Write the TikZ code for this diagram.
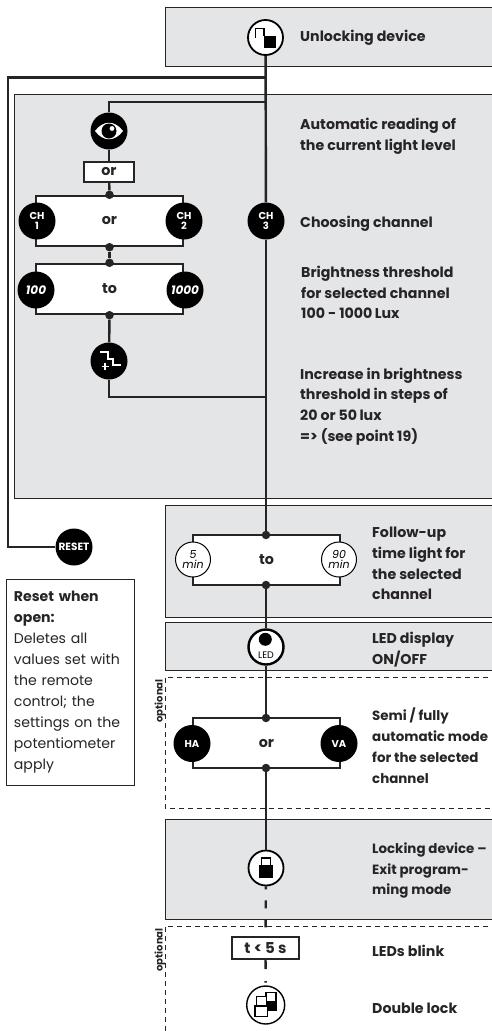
\documentclass[tikz,border=0pt]{standalone}
\usepackage{fontspec}
\setmainfont{Poppins}
\usetikzlibrary{positioning}
\definecolor{panelgray}{HTML}{E4E5E7}
\definecolor{inkdark}{HTML}{262425}
\tikzset{
  panel/.style={draw=inkdark, line width=0.9pt, fill=panelgray},
  flow/.style={draw=inkdark, line width=2.4pt},
  optline/.style={draw=inkdark, line width=0.9pt, dash pattern=on 5pt off 4pt},
  block/.style={draw=inkdark, line width=2.4pt, fill=white, minimum width=147pt, minimum height=50pt, inner sep=0pt, text=inkdark, font=\fontsize{14.3}{15}\selectfont\bfseries},
  smallbox/.style={draw=inkdark, line width=2.4pt, fill=white, inner sep=0pt, text=inkdark, font=\fontsize{14.3}{15}\selectfont\bfseries},
  junction/.style={circle, fill=inkdark, minimum size=8.5pt, inner sep=0pt},
  darkic/.style={circle, fill=black, minimum size=37pt, inner sep=0pt, text=white, align=center, font=\fontsize{10}{11.5}\selectfont\bfseries},
  valic/.style={darkic, font=\fontsize{12}{13}\selectfont\bfseries\itshape},
  lightic/.style={circle, draw=black, line width=1.8pt, fill=white, minimum size=35pt, inner sep=0pt},
  timeic/.style={circle, draw=black, line width=1pt, fill=white, minimum size=35pt, inner sep=0pt, align=center, text=black, font=\fontsize{11}{12}\selectfont\itshape},
  lbl/.style={anchor=west, align=left, inner sep=0pt, text=inkdark, font=\fontsize{14.2}{20.8}\selectfont\bfseries},
  lblnarrow/.style={lbl, font=\fontsize{13.4}{20.8}\selectfont\bfseries},
  optlbl/.style={rotate=90, inner sep=0pt, text=inkdark, font=\fontsize{10}{11}\selectfont\bfseries}
}
\begin{document}
\begin{tikzpicture}[x=1pt, y=-1pt]
  \clip (0,0) rectangle (492,1031);
  % panels
  \draw[panel] (165,7) rectangle (497,66);
  \draw[panel] (14.5,94) rectangle (497,498);
  \draw[panel] (165,505.5) rectangle (497,617);
  \draw[panel] (165,622.5) rectangle (497,670);
  \draw[panel] (165,819) rectangle (497,919);
  % optional frames
  \draw[optline] (497,677) -- (165,677) -- (165,808) -- (497,808);
  \draw[optline] (497,926) -- (165,926) -- (165,1031);
  \node[optlbl] (optone) at (160,701) {optional};
  \node[optlbl] (opttwo) at (160,950) {optional};
  % blocks
  \node[block] (chblock) at (109.5,221) {or};
  \node[block] (toblock) at (109.5,289) {to};
  \node[block] (timeblock) at (266.5,560) {to};
  \node[block] (modeblock) at (266.5,743) {or};
  \node[smallbox, minimum width=50pt, minimum height=20pt] (orbox) at (109,172) {or};
  \node[smallbox, minimum width=67pt, minimum height=22pt, font=\fontsize{15}{16}\selectfont\bfseries] (tbox) at (265.5,948) {t < 5 s};
  % symbols
  \node[lightic] (unlockic) at (265.5,37.5) {};
  \node[darkic] (eyeic) at (109,131) {};
  \node[darkic] (chone) at (37,221) {CH\\[-1pt]1};
  \node[darkic] (chtwo) at (184,221) {CH\\[-1pt]2};
  \node[darkic] (chthree) at (266,221) {CH\\[-1pt]3};
  \node[valic] (lowval) at (36,290) {100};
  \node[valic] (highval) at (185,290) {1000};
  \node[darkic] (stairic) at (109,361) {};
  \node[darkic, font=\fontsize{10.5}{11}\selectfont\bfseries] (resetic) at (74,547) {RESET};
  \node[timeic] (fivemin) at (193,559.5) {5\\[-2pt]min};
  \node[timeic] (ninetymin) at (339,559.5) {90\\[-2pt]min};
  \node[lightic, line width=2.4pt] (ledic) at (266,647) {};
  \node[darkic] (haic) at (192,743.5) {HA};
  \node[darkic] (vaic) at (339,743.5) {VA};
  \node[lightic] (lockic) at (266,868) {};
  \node[lightic, line width=1.4pt, minimum size=38pt] (dlockic) at (265.7,1005) {};
  % junctions
  \node[junction] (chtop) at (chblock.north) {};
  \node[junction] (chbot) at (chblock.south) {};
  \node[junction] (totop) at (toblock.north) {};
  \node[junction] (tobot) at (toblock.south) {};
  \node[junction] (timetop) at (266,535) {};
  \node[junction] (timebot) at (266,585) {};
  \node[junction] (modetop) at (266,718) {};
  \node[junction] (modebot) at (266,768) {};
  \coordinate (outertee) at (266,77.5);
  \coordinate (outerleft) at (8,547);
  \coordinate (eyetee) at (266,102);
  \coordinate (stairtee) at (266,397);
  % connectors
  \draw[flow] (unlockic) -- (chthree);
  \draw[flow] (chthree) -- (timetop);
  \draw[flow] (outertee) -| (outerleft) -- (resetic);
  \draw[flow] (eyetee) -| (eyeic);
  \draw[flow] (eyeic) -- (orbox);
  \draw[flow] (orbox) -- (chtop);
  \draw[flow] (chbot) -- (totop);
  \draw[flow] (tobot) -- (stairic);
  \draw[flow] (stairic) |- (stairtee);
  \draw[flow] (timebot) -- (ledic);
  \draw[flow] (ledic) -- (modetop);
  \draw[flow] (modebot) -- (lockic);
  \draw[flow, dash pattern=on 8pt off 11pt, dash phase=5pt] (lockic) -- (tbox);
  \draw[flow, dash pattern=on 9pt off 12pt on 1.5pt off 9pt] (tbox) -- (dlockic);
  % unlock icon
  \begin{scope}[shift={(unlockic.center)}]
    \draw[line width=1.3pt] (-10,0.5) -- (-10,-9) -- (-1.5,-9) -- (-1.5,-1.5);
    \fill (-2,-1.5) rectangle (10.5,10.5);
  \end{scope}
  % eye icon
  \begin{scope}[shift={(eyeic.center)}]
    \fill[white] (-14,0) .. controls (-6,-11) and (6,-11) .. (14,0) .. controls (6,11) and (-6,11) .. (-14,0);
    \fill[black] (0,0) circle (7.5);
    \fill[white] (3,-2.5) circle (2.4);
  \end{scope}
  % stairs icon
  \begin{scope}[shift={(stairic.center)}]
    \draw[white, line width=2.2pt] (-9,-9) -- (-0.7,-9) -- (-0.7,-2.3) -- (4.3,-2.3) -- (4.3,4.3) -- (11.7,4.3);
    \draw[white, line width=1.1pt] (-7.5,5.3) -- (-0.5,5.3) (-4,1.8) -- (-4,8.8);
  \end{scope}
  % led icon
  \begin{scope}[shift={(ledic.center)}]
    \fill (-0.7,-7.7) circle (6.5);
    \node[inner sep=0pt, font=\fontsize{9.5}{10}\selectfont] (ledtext) at (0,8) {LED};
  \end{scope}
  % lock icon
  \begin{scope}[shift={(lockic.center)}]
    \draw[line width=1.3pt] (-4.5,-3) -- (-4.5,-10) -- (4.5,-10) -- (4.5,-3);
    \fill (-7,-3) rectangle (7,10);
  \end{scope}
  % double lock icon
  \begin{scope}[shift={(dlockic.center)}]
    \draw[line width=1.1pt] (0.3,-3.3) -- (0.3,-12.3) -- (10.3,-12.3) -- (10.3,-3.3);
    \fill (1,-4.3) rectangle (11,5.7);
    \draw[line width=1.1pt, fill=white] (-9,-8.3) rectangle (1,1.7);
    \draw[line width=1.1pt, fill=white] (-10.7,1) rectangle (2,11.7);
  \end{scope}
  % reset note
  \node[draw=inkdark, line width=0.9pt, fill=white, anchor=north west, inner sep=0pt, minimum width=128pt, minimum height=206pt, align=left, text=inkdark, text width=113pt, font=\fontsize{14.1}{21}\selectfont] (resetnote) at (6,579)
    {\textbf{Reset when}\\\textbf{open:}\\Deletes all\\values set with\\the remote\\control; the\\settings on the\\potentiometer\\apply};
  % labels
  \node[lbl] (unlocktxt) at (300,37.5) {Unlocking device};
  \node[lbl] (readtxt) at (300,136) {Automatic reading of\\the current light level};
  \node[lbl] (chtxt) at (300,223.5) {Choosing channel};
  \node[lbl] (threshtxt) at (301,292.5) {Brightness threshold\\for selected channel\\100 - 1000\,Lux};
  \node[lbl] (steptxt) at (300,406.5) {Increase in brightness\\threshold in steps of\\20 or 50\,lux\\=> (see point 19)};
  \node[lbl] (followtxt) at (372,563.5) {Follow-up\\time light for\\the selected\\channel};
  \node[lbl] (ledtxt) at (372,649.5) {LED display\\ON/OFF};
  \node[lblnarrow] (modetxt) at (372,745.5) {Semi / fully\\automatic mode\\for the selected\\channel};
  \node[lblnarrow] (locktxt) at (372,870.5) {Locking device --\\Exit program-\\ming mode};
  \node[lbl] (blinktxt) at (372,950.5) {LEDs blink};
  \node[lbl] (dlocktxt) at (372,1008.5) {Double lock};
\end{tikzpicture}
\end{document}
